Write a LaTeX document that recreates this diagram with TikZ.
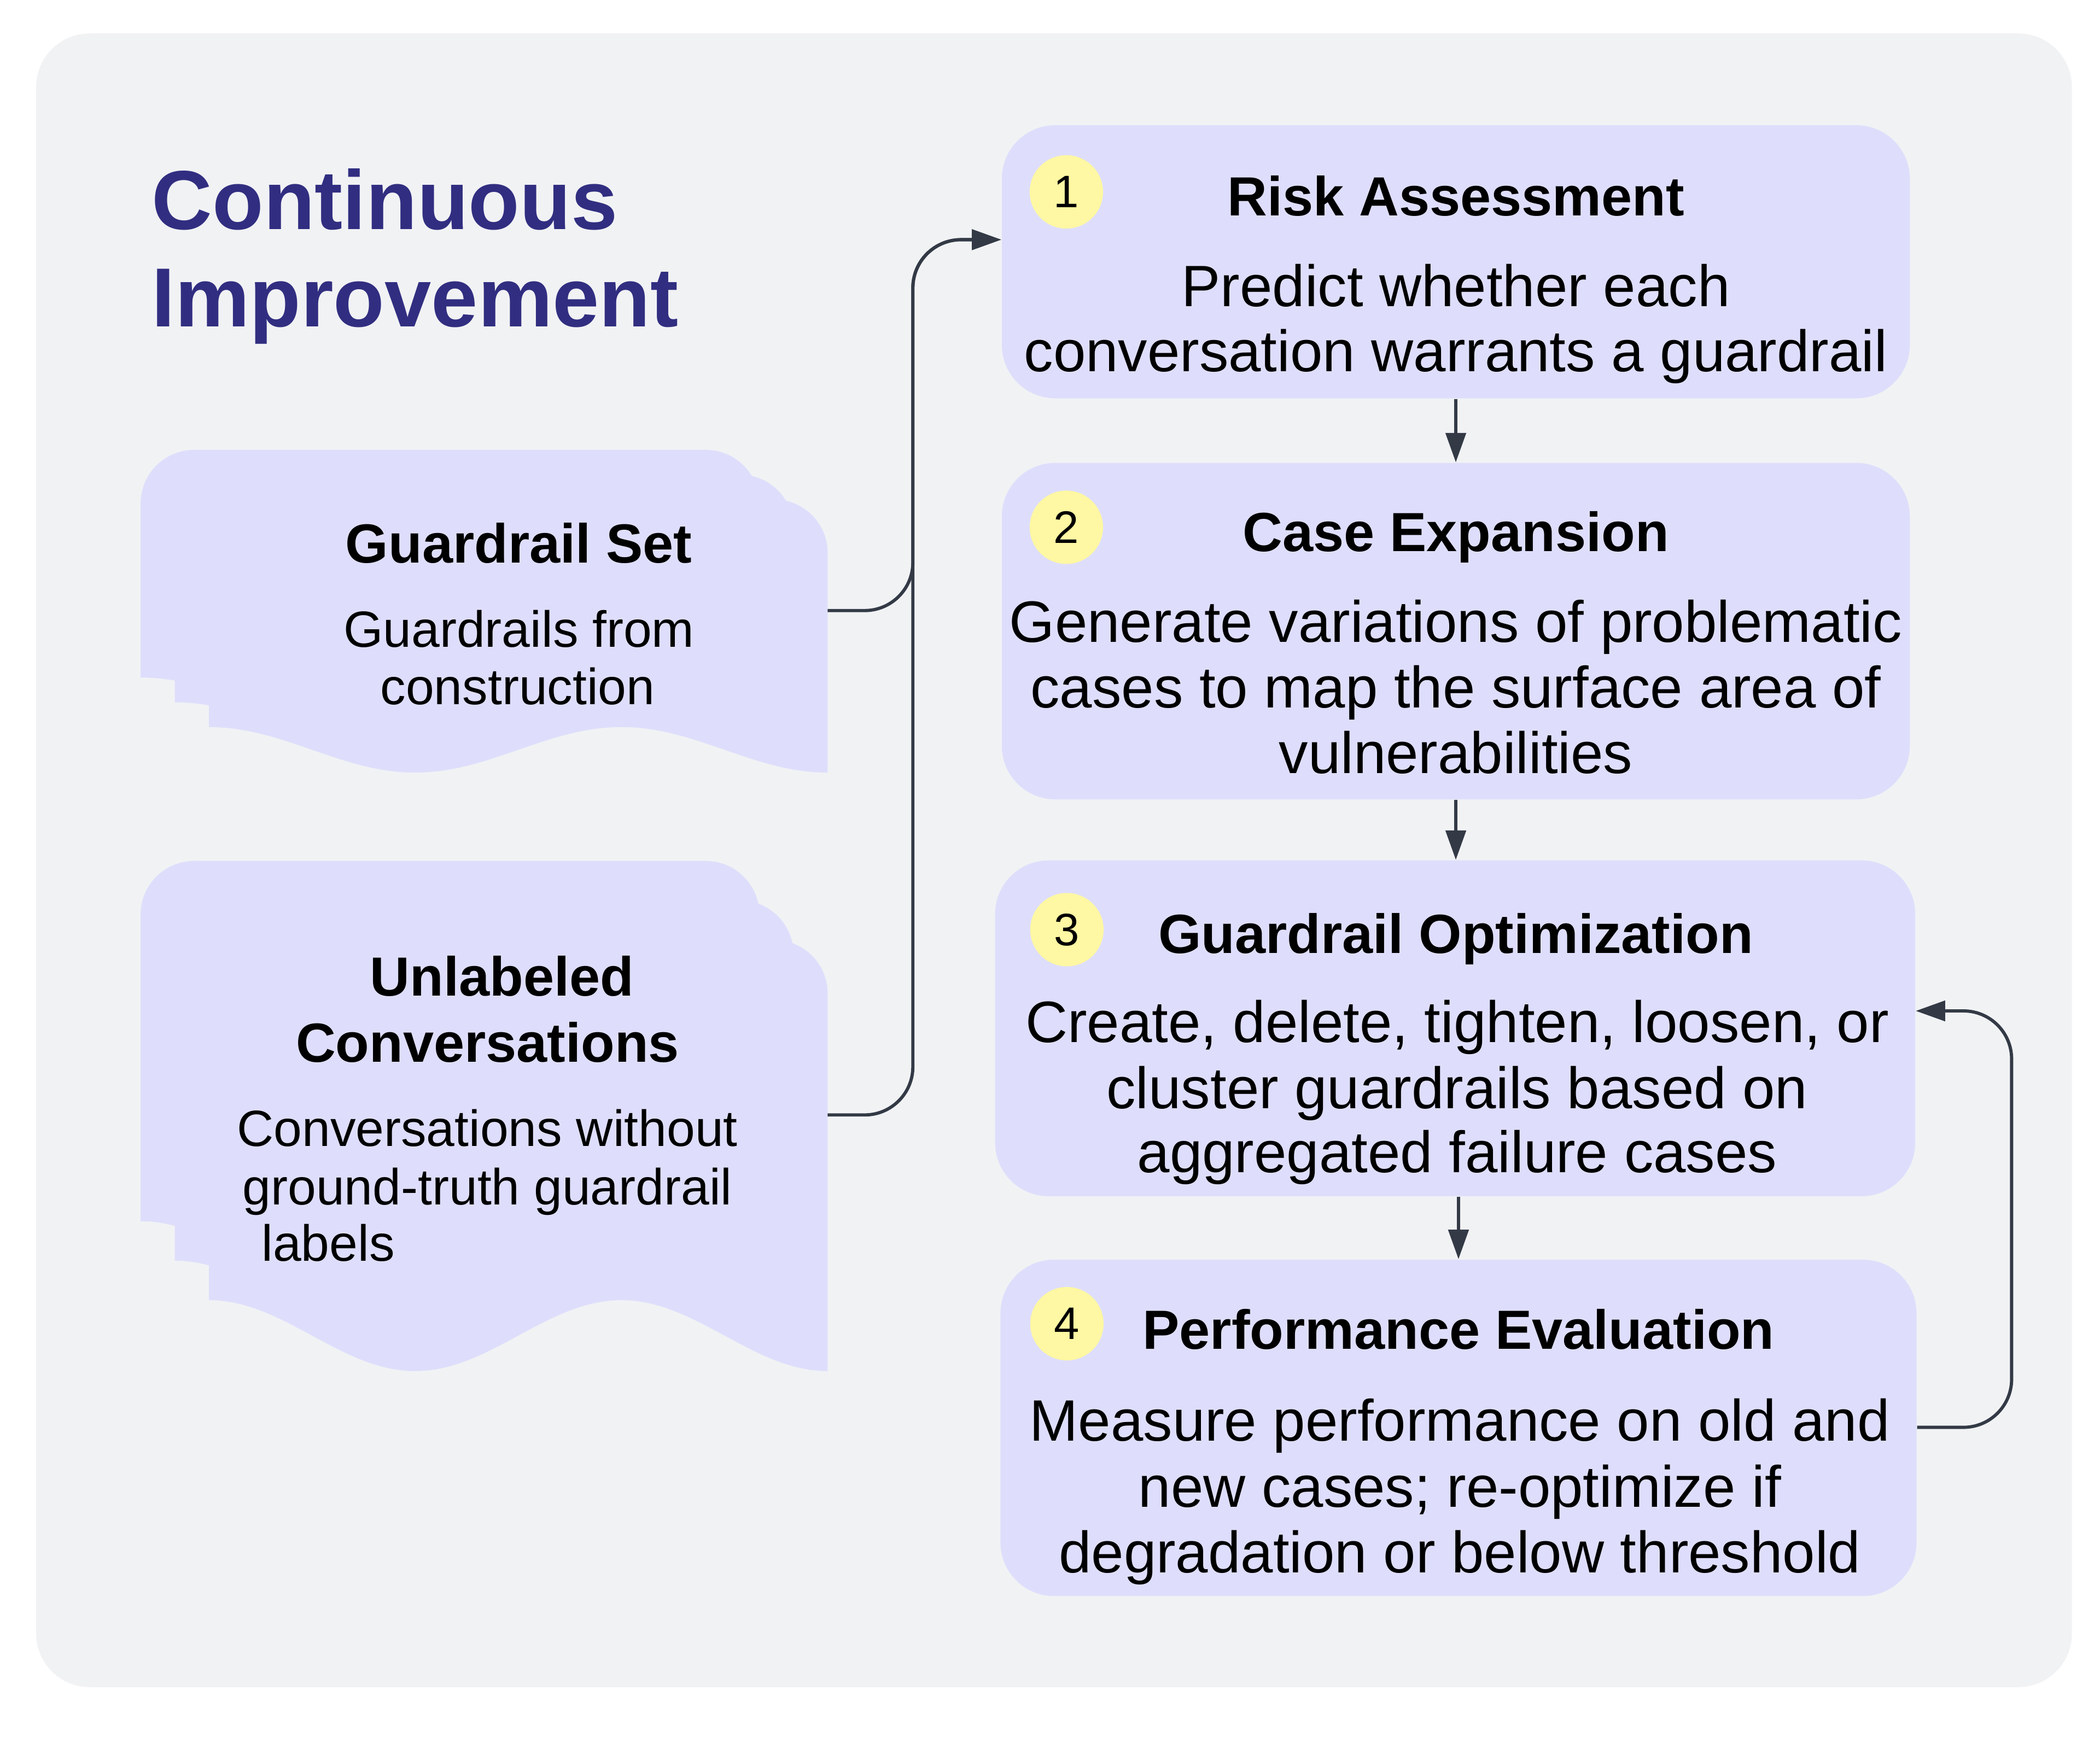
\documentclass[tikz,border=0pt]{standalone}
\usepackage{fontspec}
\setmainfont{Liberation Sans}
\usetikzlibrary{arrows.meta,fit}
\definecolor{bgc}{RGB}{241,242,244}
\definecolor{boxc}{RGB}{222,222,252}
\definecolor{badgec}{RGB}{254,247,163}
\definecolor{linec}{RGB}{51,58,70}
\definecolor{titlec}{RGB}{49,46,129}
\newcommand{\mydoc}[5]{% L T W H a
  \fill[docfill] (#1,{#2+#4-2*#5}) [rounded corners=20pt] -- (#1,#2) -- ({#1+#3},#2) -- ({#1+#3},{#2+#4}) [sharp corners] -- plot[domain=#3:0,samples=80] ({#1+\x},{#2+#4-#5-#5*cos(540/#3*\x)}) -- cycle;}
\begin{document}
\begin{tikzpicture}[x=0.5pt,y=-0.5pt,
  stepbox/.style={fill=boxc, rounded corners=20pt, inner sep=0pt, draw=none},
  badge/.style={circle, fill=badgec, minimum size=27.4pt, inner sep=0pt, font=\fontsize{17}{20}\selectfont},
  head/.style={anchor=base, inner sep=0pt, font=\fontsize{20.6}{24}\selectfont\bfseries},
  body/.style={anchor=base, inner sep=0pt, font=\fontsize{21.8}{26}\selectfont},
  lbody/.style={anchor=base, inner sep=0pt, font=\fontsize{19}{22}\selectfont},
  ttl/.style={anchor=base west, inner sep=0pt, text=titlec, font=\fontsize{31.3}{36}\selectfont\bfseries},
  conn/.style={draw=linec, line width=1.2pt, -{Triangle[length=11pt,width=7.5pt]}},
  docfill/.style={fill=boxc}]
% canvas
\fill[white] (0,0) rectangle (1568,1306.2);
\useasboundingbox (0,0) rectangle (1568,1306.2);
\fill[bgc, rounded corners=20pt] (27,25) rectangle (1547,1260);
% title
\node[ttl] (title1) at (113,171.2) {Continuous};
\node[ttl] (title2) at (113,244) {Improvement};
% document stacks
\mydoc{105}{336}{462}{204}{17}
\mydoc{130.5}{354.5}{462}{204}{17}
\mydoc{156}{373}{462}{204}{17}
\mydoc{105}{643}{462}{322}{26.5}
\mydoc{130.5}{672.5}{462}{322}{26.5}
\mydoc{156}{702}{462}{322}{26.5}
\node[head] (g1) at (387.4,420.5) {Guardrail Set};
\node[lbody] (g2) at (387.5,483.3) {Guardrails from};
\node[lbody] (g3) at (386.5,526.1) {construction};
\node[head] (u1) at (374.8,743.8) {Unlabeled};
\node[head] (u2) at (364,793) {Conversations};
\node[lbody] (u3) at (363.9,855.9) {Conversations without};
\node[lbody] (u4) at (363.9,899.7) {ground-truth guardrail};
\node[lbody, anchor=base west] (u5) at (195,942) {labels};
% step boxes
\node[stepbox, fit={(748,93.5) (1426,297.5)}] (s1) {};
\node[stepbox, fit={(748,345.7) (1426,597)}] (s2) {};
\node[stepbox, fit={(743,642.6) (1430,893.4)}] (s3) {};
\node[stepbox, fit={(747,940.8) (1431,1192)}] (s4) {};
\node[badge] (n1) at (796.2,143.3) {1};
\node[badge] (n2) at (796.2,393.8) {2};
\node[badge] (n3) at (796.6,694.3) {3};
\node[badge] (n4) at (796.6,988.6) {4};
\node[head] (h1) at (1087,161.2) {Risk Assessment};
\node[body] (b1a) at (1087,228.9) {Predict whether each};
\node[body] (b1b) at (1087,277.3) {conversation warrants a guardrail};
\node[head] (h2) at (1087,411.7) {Case Expansion};
\node[body] (b2a) at (1087,479.5) {Generate variations of problematic};
\node[body] (b2b) at (1087,528.5) {cases to map the surface area of};
\node[body] (b2c) at (1087,577.6) {vulnerabilities};
\node[head] (h3) at (1087,712) {Guardrail Optimization};
\node[body] (b3a) at (1088,778.4) {Create, delete, tighten, loosen, or};
\node[body] (b3b) at (1088,828) {cluster guardrails based on};
\node[body] (b3c) at (1088,875.7) {aggregated failure cases};
\node[head] (h4) at (1089,1007.6) {Performance Evaluation};
\node[body] (b4a) at (1090,1076.2) {Measure performance on old and};
\node[body] (b4b) at (1090,1125.7) {new cases; re-optimize if};
\node[body] (b4c) at (1090,1174.4) {degradation or below threshold};
% connectors
\coordinate (gsout) at (618,456);
\coordinate (ucout) at (618,832.7);
\coordinate (k1) at (681.6,179);
\coordinate (k0) at (681.6,456);
\coordinate (k2) at (681.6,832.7);
\coordinate (k4) at (1502,1066);
\coordinate (k5) at (1502,755);
\draw[conn, rounded corners=18pt] (gsout) -- (k0) -- (k1) -- (s1.west |- k1);
\draw[conn, rounded corners=18pt] (ucout) -- (k2) -- (k1) -- (s1.west |- k1);
\draw[conn] (s1.south) -- (s2.north);
\draw[conn] (s2.south) -- (s2.south |- s3.north);
\draw[conn] (s4.north |- s3.south) -- (s4.north);
\draw[conn, rounded corners=18pt] (s4.east |- k4) -- (k4) -- (k5) -- (s3.east |- k5);
\end{tikzpicture}
\end{document}
